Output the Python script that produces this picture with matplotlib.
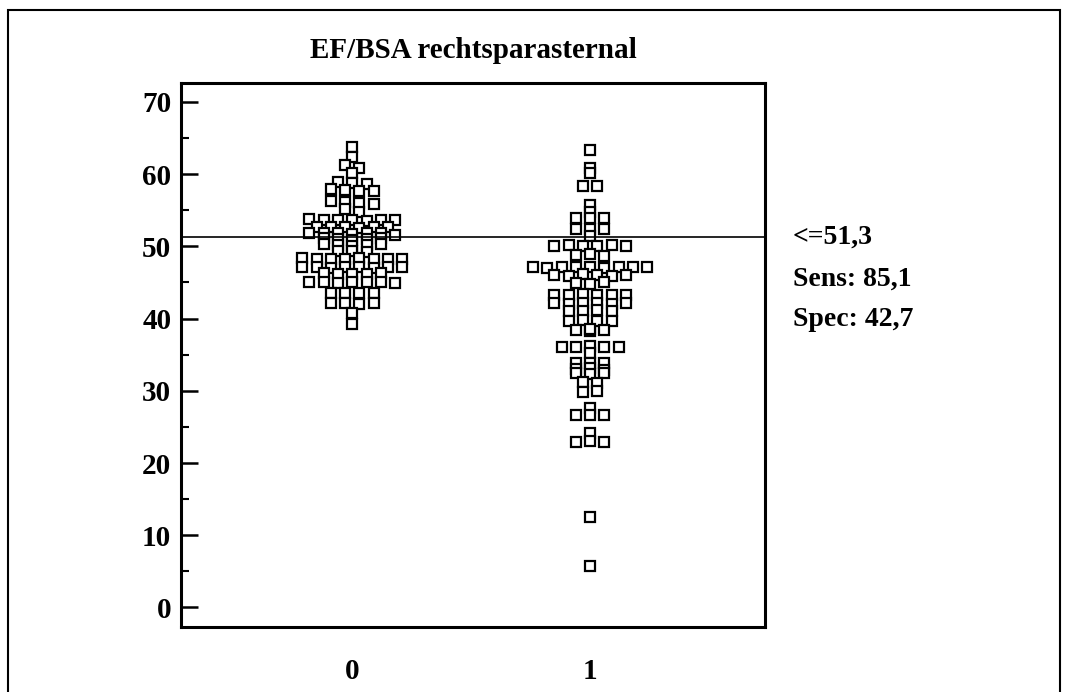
import numpy as np
import matplotlib
matplotlib.use("Agg")
import matplotlib.pyplot as plt
from matplotlib.patches import Rectangle
from collections import defaultdict

# EF/BSA values per group (0 = negative, 1 = positive)
group0 = [63.7, 62.3, 61.2, 60.9, 60.1, 58.9, 58.7, 58.6, 57.9, 57.8, 57.7, 57.6,
          56.3, 56.1, 56.0, 55.8, 55.1, 54.8,
          53.8, 53.7, 53.6, 53.6, 53.5, 53.7, 53.6,
          52.7, 52.6, 52.6, 52.5, 52.7, 52.6,
          51.9, 51.8, 51.8, 51.7, 51.9, 51.8, 51.6,
          51.1, 51.0, 50.9, 51.0, 51.1,
          50.3, 50.2, 50.1, 50.2, 50.3,
          49.4, 49.3, 49.2,
          48.4, 48.3, 48.3, 48.2, 48.4, 48.3, 48.2, 48.3,
          47.1, 47.2, 47.0, 47.1, 47.1, 47.0, 47.2, 47.1,
          46.3, 46.2, 46.1, 46.2, 46.3,
          45.0, 45.1, 44.9, 45.0, 45.0, 45.1, 44.9,
          43.6, 43.5, 43.6, 43.5,
          42.1, 42.2, 42.0, 42.1,
          40.7, 39.2]
group1 = [63.3, 60.9, 60.1, 58.4, 58.4, 55.7, 54.8, 53.9, 53.9, 53.9,
          52.4, 52.4, 52.4, 51.45,
          50.1, 50.2, 50.0, 50.1, 50.2, 50.1,
          48.8, 48.9, 48.7,
          47.1, 47.0, 47.2, 47.1, 47.1, 47.0, 47.2, 47.1, 47.1,
          46.0, 45.9, 46.1, 46.0, 45.9, 46.0,
          44.9, 44.8, 45.0,
          43.3, 43.2, 43.4, 43.3, 43.2, 43.3,
          42.1, 42.0, 42.2, 42.1, 42.0, 42.1,
          41.1, 41.0, 41.2, 41.1,
          39.7, 39.8, 39.6, 39.7,
          38.4, 38.3, 38.5, 38.4,
          36.1, 36.0, 36.2, 36.1, 36.0,
          35.2,
          33.9, 33.8, 33.9,
          33.0, 33.1, 32.9,
          32.4, 32.3, 32.4,
          31.2, 31.1,
          29.8, 29.9,
          27.6,
          26.6, 26.7, 26.6,
          24.1,
          22.9, 23.0, 22.9,
          12.5, 5.8]
groups = [group0, group1]
group_labels = ["0", "1"]
cutoff = 51.3
stats_lines = ["<=51,3", "Sens: 85,1", "Spec: 42,7"]
title = "EF/BSA rechtsparasternal"

W, H = 1069, 692
fig = plt.figure(figsize=(W / 100, H / 100), dpi=100)
ax = fig.add_axes([181 / W, 1 - 627 / H, (765 - 181) / W, (627 - 83) / H])

serif = ["Liberation Serif", "DejaVu Serif"]
spacing = 0.06   # horizontal step between markers in one value band
band = 1.0       # width of the value bands that share a row

for gi, vals in enumerate(groups):
    rows = defaultdict(list)
    for v in vals:
        rows[int(np.floor(v / band + 0.5))].append(v)
    xs, ys = [], []
    for members in rows.values():
        k = len(members)
        for i, v in enumerate(members):
            xs.append(gi + (i - (k - 1) / 2) * spacing)
            ys.append(v)
    ax.plot(xs, ys, linestyle="none", marker="s", markersize=7,
            markerfacecolor="white", markeredgecolor="black",
            markeredgewidth=1.6)

ax.axhline(cutoff, color="black", linewidth=1.2)

ax.set_xlim(-0.72, 1.735)
ax.set_ylim(-2.7, 72.6)
ax.set_xticks([0, 1])
ax.set_xticklabels(group_labels)
ax.set_yticks(np.arange(0, 71, 10))
ax.set_yticks(np.arange(5, 70, 10), minor=True)

ax.tick_params(axis="x", length=0, pad=22)
ax.tick_params(axis="y", which="major", direction="in", length=12, width=1.8, pad=7)
ax.tick_params(axis="y", which="minor", direction="in", length=6, width=1.5)
for lab in ax.get_xticklabels() + ax.get_yticklabels():
    lab.set_fontfamily(serif)
    lab.set_fontweight("bold")
    lab.set_fontsize(21)
for sp in ax.spines.values():
    sp.set_linewidth(2.2)

fig.text(473 / W, 1 - 50 / H, title, ha="center", va="center",
         fontfamily=serif, fontweight="bold", fontsize=21)

for txt, yp in zip(stats_lines, [237, 279, 320]):
    fig.text(793 / W, 1 - yp / H, txt, ha="left", va="center",
             fontfamily=serif, fontweight="bold", fontsize=20)

fig.patches.append(Rectangle((8 / W, -0.05), (1060 - 8) / W, 1.05 - 10 / H,
                             transform=fig.transFigure, fill=False,
                             edgecolor="black", linewidth=1.5))

fig.savefig("out.png", dpi=100)
